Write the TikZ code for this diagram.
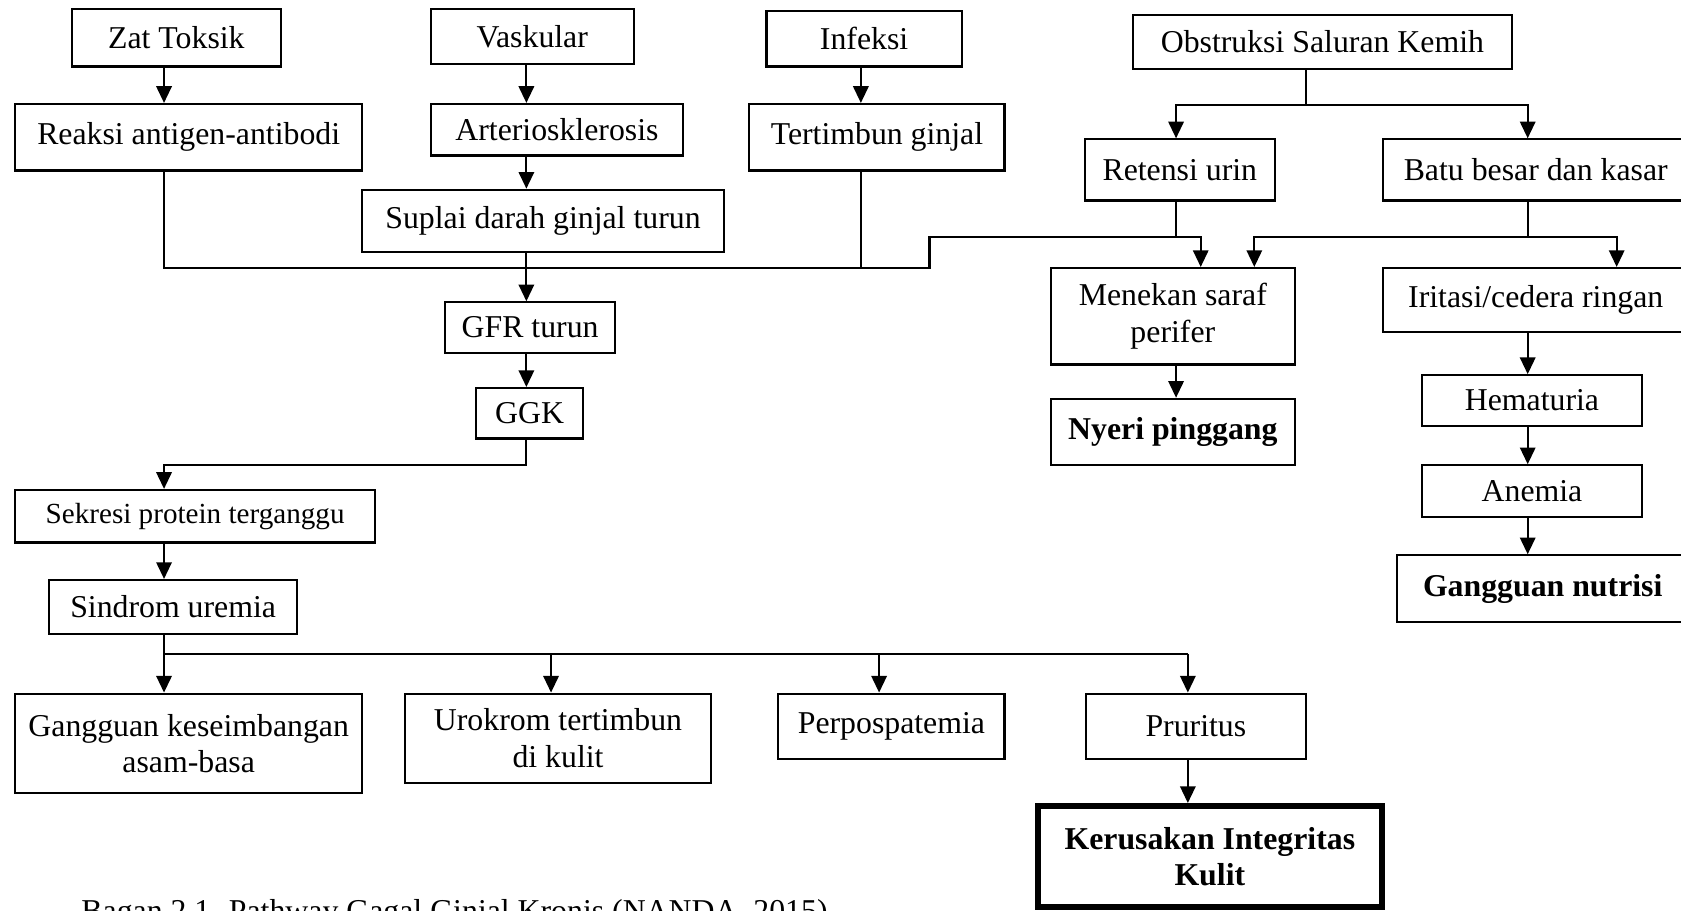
\documentclass[tikz,border=0pt]{standalone}
\usepackage{fontspec}
\setmainfont{Liberation Serif}
\usetikzlibrary{arrows.meta, calc}

\newcommand{\unitpx}{0.01422cm}

\begin{document}
\begin{tikzpicture}[
  x=\unitpx, y=-\unitpx,
  >={Triangle[length=6.3pt, width=5.8pt]},
  line width=0.8pt,
  every node/.style={font=\fontsize{12}{13.8}\selectfont},
  box/.style 2 args={draw, line width=0.8pt, minimum width=#1*\unitpx, minimum height=#2*\unitpx, inner sep=1pt, align=center},
  result/.style={font=\fontsize{12}{13.8}\selectfont\bfseries},
  heavy/.style={line width=2.4pt}
]
\clip (0,0) rectangle (1568,849);
% Causes
\node[box={195}{54}] (zat) at (164.5,35) {Zat Toksik};
\node[box={324}{62}] (reaksi) at (176,128) {Reaksi antigen-antibodi};
\node[box={189}{52}] (vaskular) at (496.5,34) {Vaskular};
\node[box={235}{48}] (arterio) at (519.5,121) {Arteriosklerosis};
\node[box={337}{58}] (suplai) at (506.5,206) {Suplai darah ginjal turun};
\node[box={182}{52}] (infeksi) at (806,36) {Infeksi};
\node[box={238}{62}] (tertimbun) at (818,128) {Tertimbun ginjal};
\node[box={353}{50}] (obstruksi) at (1233.5,39) {Obstruksi Saluran Kemih};
\node[box={177}{57}] (retensi) at (1100.5,158.5) {Retensi urin};
\node[box={285}{57}] (batu) at (1432.5,158.5) {Batu besar dan kasar};
% Right branch
\node[box={228}{90}] (menekan) at (1094,295) {Menekan saraf\\perifer};
\node[box={285}{60}] (iritasi) at (1432.5,280) {Iritasi/cedera ringan};
\node[box={228}{62}, result] (nyeri) at (1094,403) {Nyeri pinggang};
\node[box={206}{47}] (hematuria) at (1429,373.5) {Hematuria};
\node[box={206}{48}] (anemia) at (1429,458) {Anemia};
\node[box={272}{62}, result] (nutrisi) at (1439,549) {Gangguan nutrisi};
% Middle column
\node[box={159}{47}] (gfr) at (494.5,305.5) {GFR turun};
\node[box={100}{47}] (ggk) at (494,385.5) {GGK};
\node[box={336}{49}, font=\fontsize{11}{13}\selectfont] (sekresi) at (182,481.5) {Sekresi protein terganggu};
\node[box={231}{50}] (sindrom) at (161.5,566) {Sindrom uremia};
% Effects
\node[box={324}{93}] (asam) at (176,693.5) {Gangguan keseimbangan\\asam-basa};
\node[box={285}{83}] (urokrom) at (520.5,688.5) {Urokrom tertimbun\\di kulit};
\node[box={211}{61}] (perpos) at (831.5,677.5) {Perpospatemia};
\node[box={205}{61}] (pruritus) at (1115.5,677.5) {Pruritus};
\node[box={321}{94}, result, heavy] (kulit) at (1128.5,799) {Kerusakan Integritas\\Kulit};
\node[anchor=base west, inner sep=0pt] (caption) at (75,860) {Bagan 2.1. Pathway Gagal Ginjal Kronis (NANDA, 2015)};

% Columns and bends
\coordinate (colA) at (153,250);
\coordinate (colB) at (491,250);
\coordinate (colC) at (803,250);
\coordinate (bendL) at (867,250);
\coordinate (bendU) at (867,221);
\coordinate (obs) at (1218,98);
\coordinate (ret) at (1097,221);
\coordinate (bat) at (1425,221);
\coordinate (xr) at (1097,0);
\coordinate (xb) at (1425,0);
\coordinate (xm1) at (1120,0);
\coordinate (xm2) at (1170,0);
\coordinate (xi) at (1508,0);
\coordinate (ggkbend) at (491,434);
\coordinate (split) at (153,610);
\coordinate (splitR) at (1108,610);

% Connectors
\draw[->] (zat.south -| colA) -- (reaksi.north -| colA);
\draw[->] (reaksi.south -| colA) -- (colA) -- (bendL) -- (bendU) -| (menekan.north -| xm1);
\draw[->] (vaskular.south -| colB) -- (arterio.north -| colB);
\draw[->] (arterio.south -| colB) -- (suplai.north -| colB);
\draw[->] (suplai.south -| colB) -- (gfr.north -| colB);
\draw[->] (infeksi.south -| colC) -- (tertimbun.north -| colC);
\draw (tertimbun.south -| colC) -- (colC);
\draw (obstruksi.south -| obs) -- (obs);
\draw[->] (obs) -| (retensi.north -| xr);
\draw[->] (obs) -| (batu.north -| xb);
\draw (retensi.south -| xr) -- (ret);
\draw[->] (batu.south -| xb) -- (bat) -| (menekan.north -| xm2);
\draw[->] (bat) -| (iritasi.north -| xi);
\draw[->] (menekan.south -| xr) -- (nyeri.north -| xr);
\draw[->] (iritasi.south -| xb) -- (hematuria.north -| xb);
\draw[->] (hematuria.south -| xb) -- (anemia.north -| xb);
\draw[->] (anemia.south -| xb) -- (nutrisi.north -| xb);
\draw[->] (gfr.south -| colB) -- (ggk.north -| colB);
\draw[->] (ggk.south -| ggkbend) -- (ggkbend) -| (sekresi.north -| colA);
\draw[->] (sekresi.south -| colA) -- (sindrom.north -| colA);
\draw (sindrom.south -| split) -- (split) -- (splitR);
\draw[->] (split) -- (asam.north -| split);
\foreach \n/\x in {urokrom/514, perpos/820, pruritus/1108} {
  \coordinate (t) at (\x,610);
  \draw[->] (t) -- (\n.north -| t);
}
\draw[->] (pruritus.south -| splitR) -- (kulit.north -| splitR);
\end{tikzpicture}
\end{document}
